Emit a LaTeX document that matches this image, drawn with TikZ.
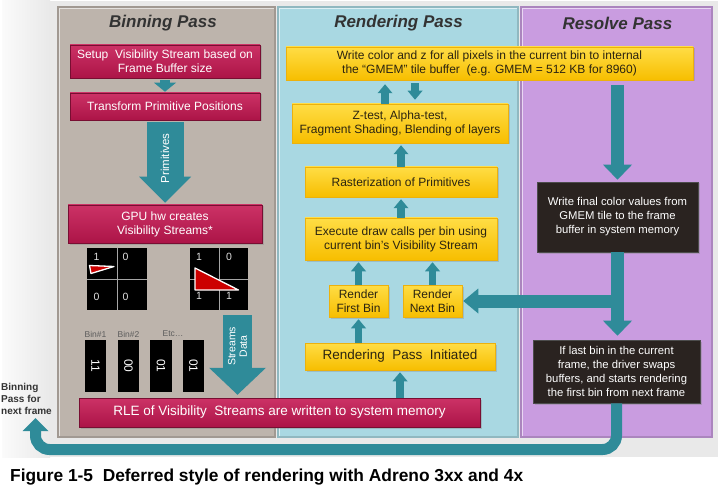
\documentclass[tikz,border=0pt]{standalone}
\usepackage{fontspec}
\usepackage{graphicx}
\setmainfont{Liberation Sans}
\usetikzlibrary{arrows.meta,calc,shadows}
\definecolor{bgc}{HTML}{E9E9E9}
\definecolor{binc}{HTML}{BDB4AC}
\definecolor{renc}{HTML}{A9D8E2}
\definecolor{resc}{HTML}{C99CE0}
\definecolor{crim}{HTML}{AC1447}
\definecolor{crimtop}{HTML}{CC3266}
\definecolor{yel}{HTML}{F7BE00}
\definecolor{yeltop}{HTML}{FFDD45}
\definecolor{tealc}{HTML}{2F8B99}
\definecolor{blk}{HTML}{2A2320}
\definecolor{ttl}{HTML}{333333}
\definecolor{ytext}{HTML}{2B2410}
\begin{document}
\begin{tikzpicture}[x=1pt,y=-1pt,
  panel/.style={line width=1.2pt},
  ptitle/.style={font=\fontsize{17}{20}\selectfont\bfseries\itshape, text=ttl},
  crimbox/.style={draw=crim!70!black, line width=0.5pt, top color=crimtop, bottom color=crim,
     text=white, font=\fontsize{12}{14}\selectfont, align=center, inner sep=0pt,
     drop shadow={opacity=0.35,shadow xshift=1.5pt,shadow yshift=-1.5pt}},
  yelbox/.style={draw=yel!80!brown, line width=0.5pt, top color=yeltop, bottom color=yel,
     text=ytext, font=\fontsize{12}{14}\selectfont, align=center, inner sep=0pt,
     drop shadow={opacity=0.3,shadow xshift=1.5pt,shadow yshift=-1.5pt}},
  blkbox/.style={draw=gray!60!black, line width=0.6pt, fill=blk, text=white,
     font=\fontsize{11.3}{14}\selectfont, align=center, inner sep=0pt,
     drop shadow={opacity=0.35,shadow xshift=1.5pt,shadow yshift=-1.5pt}},
  cell/.style={fill=black, draw=none, minimum width=60pt, minimum height=62pt, inner sep=0pt},
  gnum/.style={font=\fontsize{10.5}{12}\selectfont, text=gray!25, inner sep=0pt},
  bincol/.style={fill=black, minimum width=21pt, minimum height=52pt, inner sep=0pt},
  bintxt/.style={font=\fontsize{12}{14}\selectfont, text=white, rotate=-90},
  binlab/.style={font=\fontsize{8.5}{10}\selectfont, text=ttl!80, inner sep=0pt},
  sarrow/.style={draw=tealc, line width=7.5pt, -{Triangle[width=15pt,length=9pt,line width=0pt]}},
  marrow/.style={draw=tealc, line width=13.5pt, -{Triangle[width=29pt,length=15pt,line width=0pt]}},
  tri/.style={fill=red!80!black, draw=white, line width=1.3pt, line join=round}
]
\useasboundingbox (0,0) rectangle (720,489);
\fill[white] (0,0) rectangle (720,489);
\fill[bgc] (2,1) rectangle (718,457);
\shade[left color=white!80!bgc, right color=bgc] (2,1) rectangle (50,457);

% panels
\draw[panel, fill=binc, draw=binc!85!black] (58,7) rectangle (275,437);
\draw[panel, fill=renc, draw=renc!85!black] (278,7) rectangle (518,437);
\draw[panel, fill=resc, draw=resc!85!black] (521,7) rectangle (712,437);
\draw[white!60!binc, line width=1pt] (59.5,436) -- (59.5,8.5) -- (273.5,8.5);
\draw[white!60!renc, line width=1pt] (279.5,436) -- (279.5,8.5) -- (516.5,8.5);
\draw[white!60!resc, line width=1pt] (522.5,436) -- (522.5,8.5) -- (710.5,8.5);

\node[ptitle] (t1) at (163,23) {Binning Pass};
\node[ptitle] (t2) at (398.5,23) {Rendering Pass};
\node[ptitle] (t3) at (617.5,23) {Resolve Pass};

% binning pass boxes
\node[crimbox, minimum width=190pt, minimum height=33pt] (su) at (165,61.5)
  {Setup\ \ Visibility Stream based on\\Frame Buffer size};
\node[crimbox, minimum width=190pt, minimum height=27pt] (tr) at (165,106.5)
  {Transform Primitive Positions};
\node[crimbox, minimum width=194pt, minimum height=38pt] (gpu) at (165,224)
  {GPU hw creates\\Visibility Streams*};
\node[crimbox, minimum width=401pt, minimum height=29pt, font=\fontsize{13.5}{15}\selectfont] (rle) at (279.5,412.5)
  {RLE of Visibility\ \ Streams are written to system memory};

% grids
\node[cell] (g1) at (117,279) {};
\draw[gray!70, line width=0.8pt] (g1.north) -- (g1.south) (g1.west) -- (g1.east);
\node[gnum] (g1a) at (96.5,257) {1};
\node[gnum] (g1b) at (125.5,257) {0};
\node[gnum] (g1c) at (96.5,297) {0};
\node[gnum] (g1d) at (125.5,297) {0};
\draw[tri] (89.5,265.5) -- (114,266.5) -- (91,273.5) -- cycle;

\node[cell, minimum width=58pt] (g2) at (219,279) {};
\draw[gray!70, line width=0.8pt] (g2.north) -- (g2.south) (g2.west) -- (g2.east);
\node[gnum] (g2a) at (199,256.5) {1};
\node[gnum] (g2b) at (229,256.5) {0};
\node[gnum] (g2c) at (199,295.5) {1};
\node[gnum] (g2d) at (229,295.5) {1};
\draw[tri] (195,268) -- (238.5,290) -- (195,290) -- cycle;

% bins
\node[binlab] (l1) at (95.5,334) {Bin\#1};
\node[binlab] (l2) at (128.5,334) {Bin\#2};
\node[binlab] (l3) at (173,334) {Etc…};
\node[bincol] (c1) at (95.5,366) {};
\node[bincol] (c2) at (128.5,366) {};
\node[bincol, minimum width=22pt] (c3) at (161,366) {};
\node[bincol] (c4) at (193.5,366) {};
\node[bintxt] at (c1) {11};
\node[bintxt] at (c2) {00};
\node[bintxt] at (c3) {01};
\node[bintxt] at (c4) {01};

% binning arrows
\draw[draw=tealc, line width=10pt, -{Triangle[width=22pt,length=9pt,line width=0pt]},
  shorten <=2pt, shorten >=1pt] (su.south) -- (tr.north);
\draw[draw=tealc, line width=37pt, -{Triangle[width=52pt,length=26pt,line width=0pt]},
  shorten <=2pt, shorten >=2pt] (tr.south) -- (gpu.north)
  node[pos=0.45, rotate=90, text=white, font=\fontsize{11.5}{13}\selectfont] (prim) {Primitives};
\coordinate (sd) at (237.5,315);
\draw[draw=tealc, line width=29pt, -{Triangle[width=57pt,length=27pt,line width=0pt]},
  shorten >=3pt] (sd) -- (sd |- rle.north)
  node[pos=0.38, rotate=90, text=white, align=center, font=\fontsize{10.5}{11.5}\selectfont] (sdl) {Streams\\Data};

% rendering pass boxes
\node[yelbox, minimum width=407pt, minimum height=33pt] (wr) at (489.5,63.5)
  {Write color and z for all pixels in the current bin to internal\\the ``GMEM'' tile buffer\ \ (e.g. GMEM = 512 KB for 8960)};
\node[yelbox, minimum width=216pt, minimum height=39pt] (zt) at (400,123.5)
  {Z-test, Alpha-test,\\Fragment Shading, Blending of layers};
\node[yelbox, minimum width=192pt, minimum height=30pt] (ra) at (401,182)
  {Rasterization of Primitives};
\node[yelbox, minimum width=192pt, minimum height=42pt] (ex) at (401,239)
  {Execute draw calls per bin using\\current bin’s Visibility Stream};
\node[yelbox, minimum width=59pt, minimum height=32pt] (rf) at (358.5,301)
  {Render\\First Bin};
\node[yelbox, minimum width=59pt, minimum height=32pt] (rn) at (432.5,301)
  {Render\\Next Bin};
\node[yelbox, minimum width=190pt, minimum height=27pt, font=\fontsize{13.5}{15}\selectfont] (rpi) at (400,356.5)
  {Rendering\ \ Pass\ \ Initiated};

% rendering arrows
\draw[sarrow, shorten >=2pt] (rpi.south |- rle.north) -- (rpi.south);
\draw[sarrow, shorten >=2pt] (rpi.north -| rf.south) -- (rf.south);
\draw[sarrow, shorten >=2pt] (rf.north) -- (rf.north |- ex.south);
\draw[sarrow, shorten >=2pt] (rn.north) -- (rn.north |- ex.south);
\draw[sarrow, shorten >=2pt] (ex.north) -- (ex.north |- ra.south);
\draw[sarrow, shorten >=2pt] (ra.north) -- (ra.north |- zt.south);
\coordinate (zu) at ([xshift=-15pt]zt.north);
\coordinate (zd) at ([xshift=15pt]zt.north);
\draw[sarrow, shorten >=4pt] (zu) -- (zu |- wr.south);
\draw[sarrow, shorten <=3pt, shorten >=4pt] (zd |- wr.south) -- (zd);

% resolve pass boxes
\node[blkbox, minimum width=161pt, minimum height=70pt] (b1) at (617.5,217)
  {Write final color values from\\GMEM tile to the frame\\buffer in system memory};
\node[blkbox, minimum width=167pt, minimum height=63pt] (b2) at (616.5,371.5)
  {If last bin in the current\\frame, the driver swaps\\buffers, and starts rendering\\the first bin from next frame};

% resolve arrows
\draw[marrow, shorten <=5pt, shorten >=2pt] (b1.north |- wr.south) -- (b1.north);
\draw[marrow, shorten >=4pt] (b1.south) -- (b1.south |- b2.north);
\draw[draw=tealc, line width=13pt, -{Triangle[width=25pt,length=15pt,line width=0pt]},
  shorten >=1pt] (b1.south |- rn.east) -- (rn.east);

% loop back
\coordinate (lb) at (0,449.5);
\coordinate (bp) at (35.5,418);
\draw[draw=tealc, line width=11pt, rounded corners=14pt,
  -{Triangle[width=26pt,length=13pt,line width=0pt]}]
  (b2.south) -- (b2.south |- lb) -- (bp |- lb) -- (bp);
\node[anchor=north west, align=left, inner sep=0pt, text=ttl,
  font=\fontsize{10}{12}\selectfont\bfseries] (nf) at (1,383.5)
  {Binning\\Pass for\\next frame};

% caption
\node[anchor=west, inner sep=0pt] (cap) at (10,477)
  {\resizebox{513pt}{!}{\bfseries Figure 1-5\ \ Deferred style of rendering with Adreno 3xx and 4x}};
\end{tikzpicture}
\end{document}
